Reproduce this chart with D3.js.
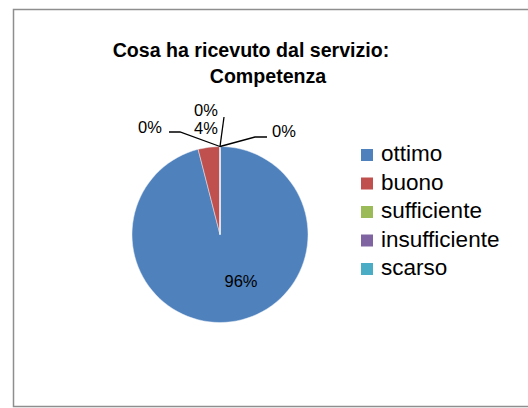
<!DOCTYPE html>
<html>
<head>
<meta charset="utf-8">
<script src="https://cdn.jsdelivr.net/npm/d3@7"></script>
<style>
  body { margin: 0; background: #fff; }
  text { font-family: "Liberation Sans", Arial, sans-serif; fill: #000; }
</style>
</head>
<body>
<div id="chart-area"></div>
<script>
// values
const categories = ["ottimo", "buono", "sufficiente", "insufficiente", "scarso"];
const percents = [96, 4, 0, 0, 0];
const colors = ["#4F81BD", "#C0504D", "#9BBB59", "#8064A2", "#4BACC6"];
const titleLines = ["Cosa ha ricevuto dal servizio:", "Competenza"];

let width = 528, height = 408;

let svg = d3.select("#chart-area").append("svg")
    .attr("width", width)
    .attr("height", height);

// outer frame
svg.append("rect")
    .attr("x", 13.5)
    .attr("y", 9.5)
    .attr("width", 540)
    .attr("height", 397)
    .attr("fill", "#fff")
    .attr("stroke", "#8e8e8e")
    .attr("stroke-width", 1.5);

// title
svg.append("text")
    .attr("x", 251)
    .attr("y", 57)
    .attr("text-anchor", "middle")
    .style("font-weight", "bold")
    .style("font-size", "19.6px")
    .text(titleLines[0]);

svg.append("text")
    .attr("x", 268)
    .attr("y", 83)
    .attr("text-anchor", "middle")
    .style("font-weight", "bold")
    .style("font-size", "19.6px")
    .text(titleLines[1]);

let data = categories.map((c, i) => ({ name: c, value: percents[i], color: colors[i] }));

let cx = 220, cy = 234.5, radius = 88;

let pie = d3.pie().sort(null).value(d => d.value);
let arc = d3.arc().innerRadius(0).outerRadius(radius);

let g = svg.append("g")
    .attr("transform", "translate(" + cx + "," + cy + ")");

let arcs = pie(data);

g.selectAll(".slice")
    .data(arcs)
    .enter().append("path")
    .attr("class", "slice")
    .attr("d", arc)
    .attr("fill", d => d.data.color)
    .attr("stroke", "#e8eef6")
    .attr("stroke-width", 0.5);

// label placement (offsets from centre); zero slices get leader lines
let labelLayout = {
    "ottimo":        { dx: 21, dy: 46.5, leader: null },
    "buono":         { dx: -14, dy: -107, leader: null },
    "sufficiente":   { dx: -14, dy: -125, leader: [[4, -117.5]] },
    "insufficiente": { dx: -70, dy: -107.5, leader: [[-40, -102.5], [-51, -102.5]] },
    "scarso":        { dx: 64, dy: -103.5, leader: [[35, -97.5], [47, -97.5]] }
};

let fmt = d => d3.format(".0f")(d) + "%";

arcs.forEach(function (a) {
    let lay = labelLayout[a.data.name];
    if (lay.leader) {
        // leader starts at the slice's outer point
        let p0 = [radius * Math.sin(a.startAngle), -radius * Math.cos(a.startAngle)];
        let pts = [p0].concat(lay.leader);
        g.append("path")
            .attr("d", d3.line()(pts))
            .attr("fill", "none")
            .attr("stroke", "#000")
            .attr("stroke-width", 1.3);
    }
    g.append("text")
        .attr("x", lay.dx)
        .attr("y", lay.dy)
        .attr("text-anchor", "middle")
        .attr("dominant-baseline", "central")
        .style("font-size", "16.5px")
        .text(fmt(a.data.value));
});

// legend
let legend = svg.append("g")
    .attr("transform", "translate(361,155)");

let item = legend.selectAll(".item")
    .data(data)
    .enter().append("g")
    .attr("class", "item")
    .attr("transform", (d, i) => "translate(0," + (i * 28.5) + ")");

item.append("rect")
    .attr("x", 0)
    .attr("y", -6)
    .attr("width", 12)
    .attr("height", 12)
    .attr("fill", d => d.color);

item.append("text")
    .attr("x", 20)
    .attr("y", 6)
    .style("font-size", "22.5px")
    .text(d => d.name);
</script>
</body>
</html>
